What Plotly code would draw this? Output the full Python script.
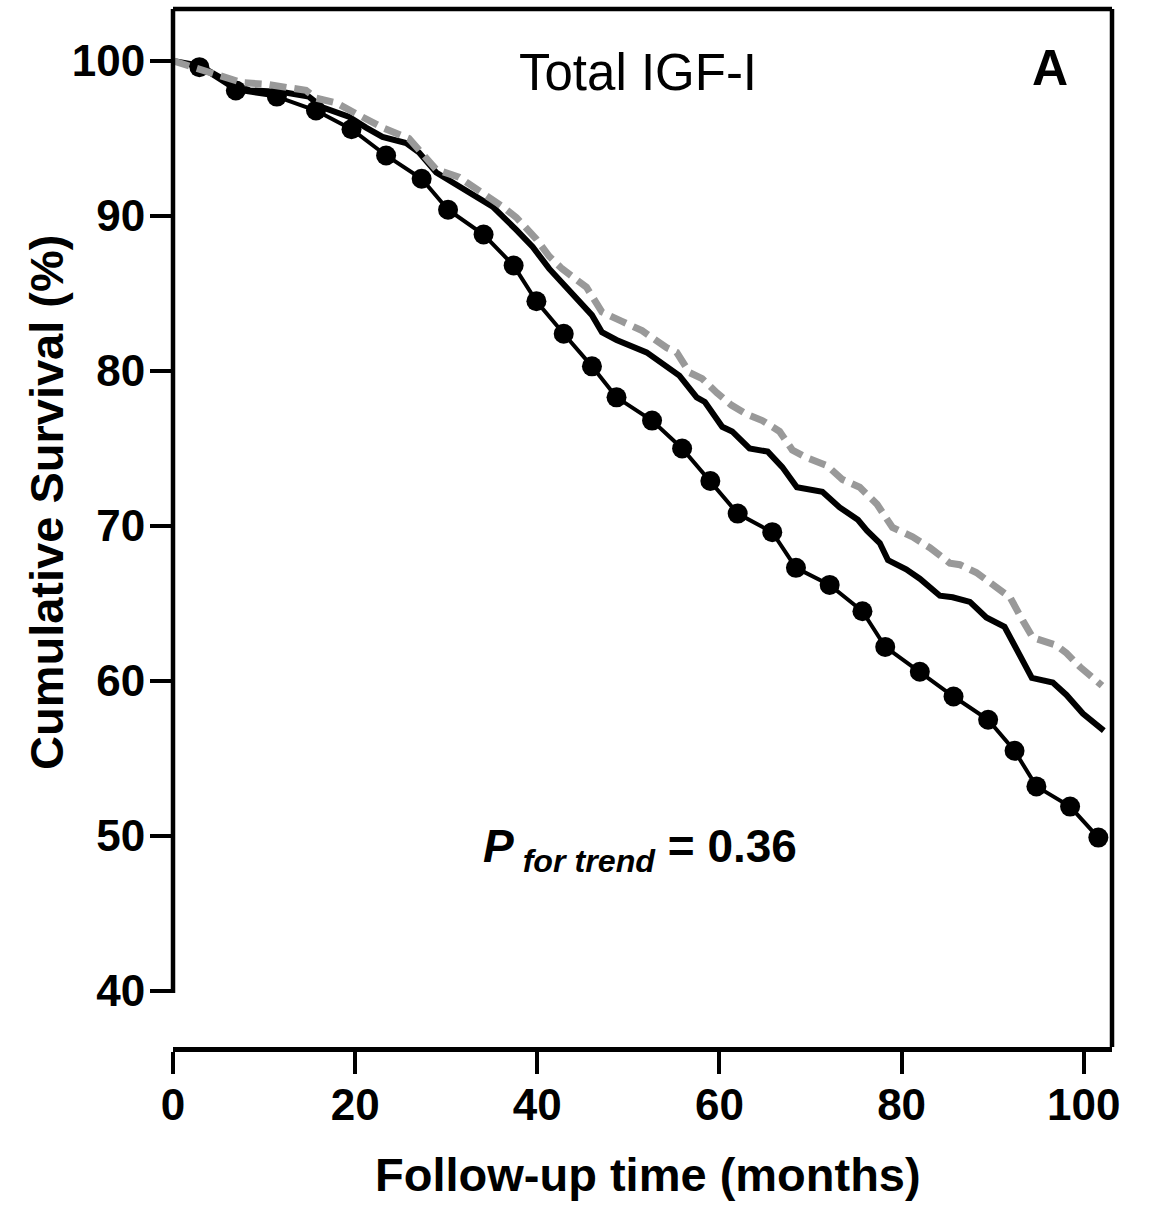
import plotly.graph_objects as go

# ---- data ----
low_x = [0, 2.9, 6.9, 11.4, 15.7, 19.6, 23.4, 27.3, 30.2, 34.1, 37.4, 39.9, 42.9, 46.0, 48.7,
         52.6, 55.9, 59.0, 62.0, 65.8, 68.4, 72.1, 75.7, 78.2, 82.0, 85.7, 89.5, 92.4, 94.8,
         98.5, 101.6]
low_y = [100, 99.6, 98.1, 97.7, 96.8, 95.6, 93.9, 92.4, 90.4, 88.8, 86.8, 84.5, 82.4, 80.3,
         78.3, 76.8, 75.0, 72.9, 70.8, 69.6, 67.3, 66.2, 64.5, 62.2, 60.6, 59.0, 57.5, 55.5,
         53.2, 51.9, 49.9]

mid_x = [0, 2.9, 6.2, 8.4, 12.0, 14.9, 16.4, 19.3, 21.2, 23.0, 25.6, 27.0, 28.9, 31.4, 35.1,
         37.7, 39.5, 41.3, 42.7, 46.0, 47.1, 48.7, 52.0, 54.5, 55.6, 57.5, 58.4, 60.3, 61.4,
         63.3, 65.3, 66.9, 68.5, 71.3, 73.2, 75.2, 76.2, 77.6, 78.5, 80.5, 82.0, 84.2, 85.6,
         87.5, 89.3, 91.3, 92.6, 94.3, 96.6, 98.1, 99.9, 102.2]
mid_y = [100, 99.7, 98.6, 98.1, 98.0, 97.7, 97.0, 96.4, 95.7, 95.1, 94.7, 94.1, 92.8, 91.9,
         90.6, 89.1, 88.0, 86.6, 85.7, 83.6, 82.5, 82.0, 81.2, 80.1, 79.7, 78.3, 78.0, 76.4,
         76.1, 75.0, 74.8, 73.8, 72.5, 72.2, 71.2, 70.4, 69.7, 68.9, 67.8, 67.2, 66.6, 65.5,
         65.4, 65.1, 64.1, 63.5, 62.0, 60.2, 59.9, 59.1, 57.9, 56.8]

high_x = [0, 4.7, 7.6, 10.2, 14.6, 15.7, 17.9, 20.1, 23.0, 25.9, 27.8, 28.9, 31.4, 34.0, 36.2,
          37.7, 39.9, 41.3, 42.7, 45.4, 47.1, 49.3, 51.5, 54.2, 55.3, 56.7, 58.1, 59.7, 61.3,
          63.0, 64.7, 66.6, 68.0, 69.6, 71.8, 73.5, 75.4, 77.3, 79.0, 81.2, 83.1, 85.3, 86.4,
          88.2, 90.4, 91.9, 93.3, 94.4, 97.0, 98.1, 99.6, 102.0]
high_y = [100, 99.2, 98.6, 98.5, 98.1, 97.6, 97.3, 96.6, 95.7, 95.0, 93.8, 93.0, 92.5, 91.5,
          90.6, 89.9, 88.5, 87.4, 86.6, 85.4, 83.8, 83.2, 82.6, 81.5, 81.2, 79.9, 79.5, 78.6,
          77.8, 77.2, 76.8, 76.1, 74.9, 74.4, 73.9, 73.0, 72.5, 71.4, 69.9, 69.3, 68.6, 67.6,
          67.5, 67.0, 66.0, 65.4, 63.9, 62.8, 62.3, 61.8, 60.9, 59.7]

x_ticks = [0, 20, 40, 60, 80, 100]
y_ticks = [40, 50, 60, 70, 80, 90, 100]

# ---- layout geometry ----
W, H = 1152, 1210
L, R, T, B = 173, 1112, 9, 1047
X_RANGE = [0, 103.1]
Y_RANGE = [36.39, 103.35]
FONT = "Arial, Liberation Sans, sans-serif"


def px(xp):
    return (xp - L) / (R - L)


def py(yp):
    return (B - yp) / (B - T)


def yfrac(v):
    return (v - Y_RANGE[0]) / (Y_RANGE[1] - Y_RANGE[0])


fig = go.Figure()

fig.add_trace(go.Scatter(x=mid_x, y=mid_y, mode="lines",
                         line=dict(color="black", width=6), hoverinfo="skip"))
fig.add_trace(go.Scatter(x=low_x, y=low_y, mode="lines",
                         line=dict(color="black", width=4), hoverinfo="skip"))
fig.add_trace(go.Scatter(x=low_x[1:], y=low_y[1:], mode="markers",
                         marker=dict(color="black", size=20, opacity=1,
                                     line=dict(width=0)),
                         hoverinfo="skip"))
fig.add_trace(go.Scatter(x=high_x, y=high_y, mode="lines",
                         line=dict(color="#999999", width=7, dash="17px,8px"), hoverinfo="skip"))

lw = 4.5
shapes = [
    # left (offset) y-axis line
    dict(type="line", xref="paper", yref="paper", x0=0, x1=0, y0=yfrac(40) - 0.002, y1=1,
         line=dict(color="black", width=lw)),
    # top border
    dict(type="line", xref="paper", yref="paper", x0=0, x1=1, y0=1, y1=1,
         line=dict(color="black", width=lw)),
    # right border
    dict(type="line", xref="paper", yref="paper", x0=1, x1=1, y0=0, y1=1,
         line=dict(color="black", width=lw)),
]

annotations = [
    dict(text="Total IGF-I", x=px(638), y=py(72), xref="paper", yref="paper",
         showarrow=False, xanchor="center", yanchor="middle",
         font=dict(family=FONT, size=51, color="black")),
    dict(text="<b>A</b>", x=px(1050), y=py(68), xref="paper", yref="paper",
         showarrow=False, xanchor="center", yanchor="middle",
         font=dict(family=FONT, size=50, color="black")),
    dict(text="<b><i>P</i></b><sub><b><i> for trend</i></b></sub><b> = 0.36</b>",
         x=px(640), y=py(850), xref="paper", yref="paper",
         showarrow=False, xanchor="center", yanchor="middle",
         font=dict(family=FONT, size=46, color="black")),
    dict(text="<b>Follow-up time (months)</b>", x=px(648), y=py(1174),
         xref="paper", yref="paper", showarrow=False, xanchor="center", yanchor="middle",
         font=dict(family=FONT, size=47, color="black")),
    dict(text="<b>Cumulative Survival (%)</b>", x=px(46), y=py(503), textangle=-90,
         xref="paper", yref="paper", showarrow=False, xanchor="center", yanchor="middle",
         font=dict(family=FONT, size=47, color="black")),
]

fig.update_layout(
    width=W, height=H,
    margin=dict(l=L, r=W - R, t=T, b=H - B, pad=0),
    paper_bgcolor="white", plot_bgcolor="white",
    showlegend=False,
    shapes=shapes,
    annotations=annotations,
    xaxis=dict(range=X_RANGE, tickvals=x_ticks, ticktext=[str(v) for v in x_ticks],
               ticks="outside", ticklen=22, tickwidth=4, tickcolor="black",
               ticklabelstandoff=-7,
               showline=True, linecolor="black", linewidth=lw,
               showgrid=False, zeroline=False,
               tickfont=dict(family=FONT, size=44, color="black", weight="bold")),
    yaxis=dict(range=Y_RANGE, tickvals=y_ticks, ticktext=[str(v) for v in y_ticks],
               ticks="outside", ticklen=22, tickwidth=4, tickcolor="black",
               ticklabelstandoff=-4,
               showline=False, showgrid=False, zeroline=False,
               tickfont=dict(family=FONT, size=44, color="black", weight="bold")),
)

fig.write_html("out.html")
